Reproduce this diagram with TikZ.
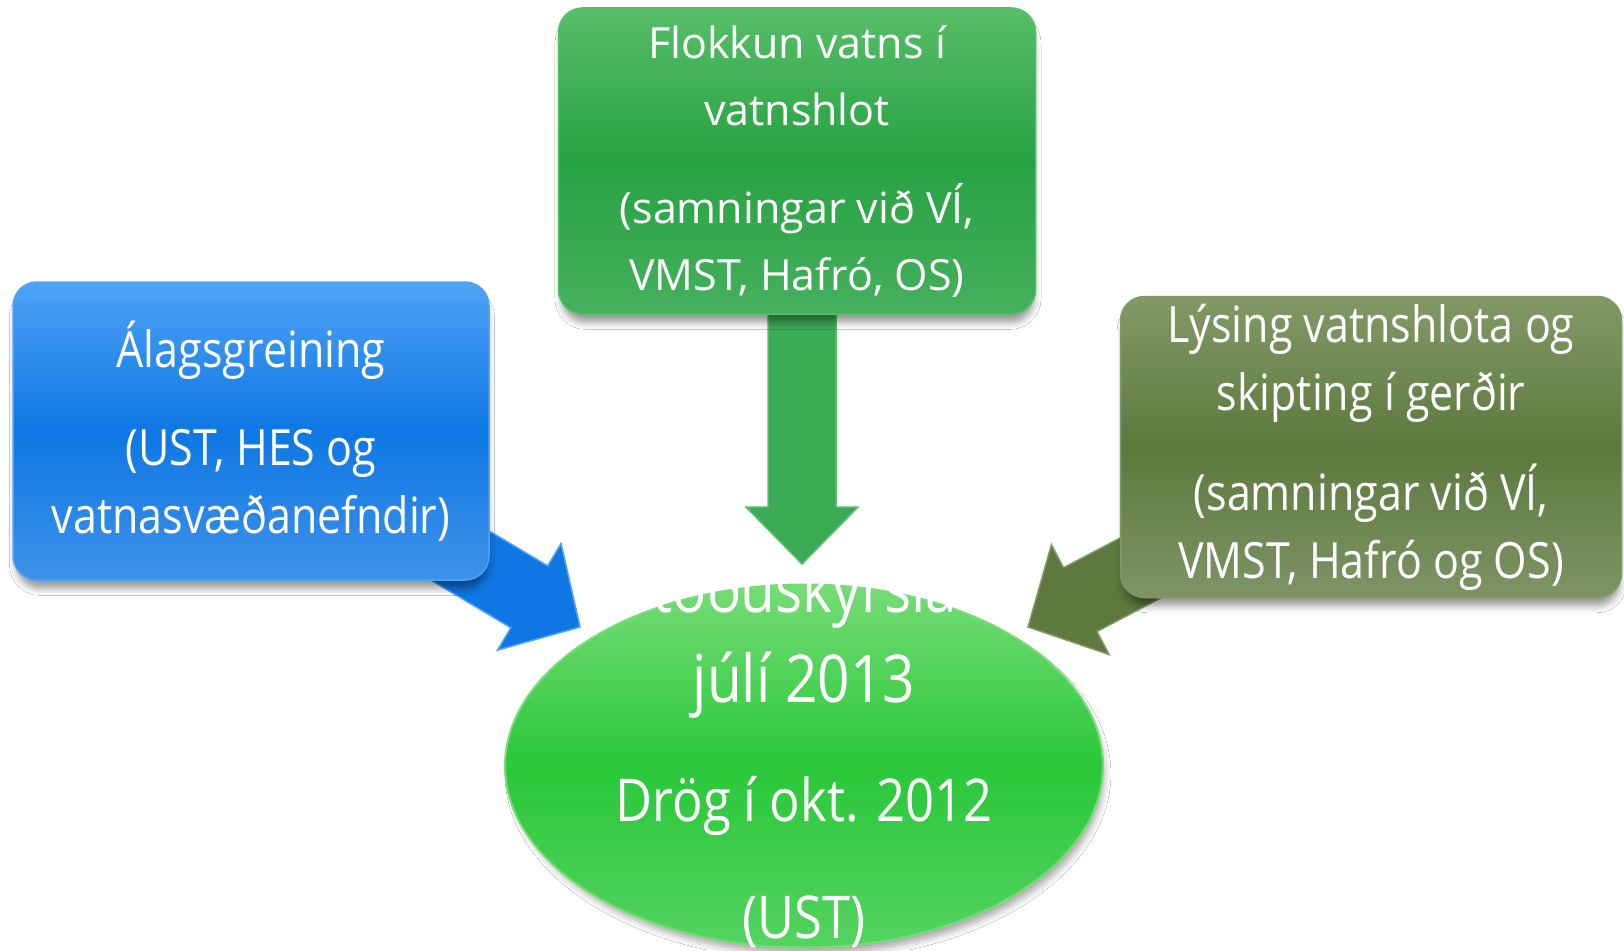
\documentclass[tikz,border=0pt]{standalone}
\usepackage{fontspec}
\setmainfont{Open Sans}
\newfontfamily\condfont[FakeStretch=0.86]{Open Sans}
\usetikzlibrary{shapes.geometric,calc,shadows.blur}

\definecolor{bluemain}{RGB}{14,119,227}
\definecolor{bluelight}{RGB}{78,163,245}
\definecolor{greenmain}{RGB}{38,162,66}
\definecolor{greenlight}{RGB}{88,190,104}
\definecolor{olivemain}{RGB}{93,121,62}
\definecolor{olivelight}{RGB}{130,153,103}
\definecolor{ellmain}{RGB}{42,200,58}
\definecolor{elllight}{RGB}{118,220,118}
\definecolor{shadowcol}{RGB}{70,50,40}

% block arrow: #1 style, #2 source, #3 tip, #4 shaft half width, #5 head half width, #6 head length
\newcommand\blockarr[6]{%
  \coordinate (#3hc) at ($(#3)!#6!(#2)$);
  \draw[#1] ($(#2)!#4!90:(#3)$) -- ($(#3hc)!#4!90:(#3)$) -- ($(#3hc)!#5!90:(#3)$)
    -- (#3) -- ($(#3hc)!#5!-90:(#3)$) -- ($(#3hc)!#4!-90:(#3)$) -- ($(#2)!#4!-90:(#3)$) -- cycle;}

\begin{document}
\begin{tikzpicture}[x=1pt,y=-1pt,
  boxshape/.style={rectangle, rounded corners=24pt, inner sep=0pt, align=center, text=white,
    line width=1.5pt,
    blur shadow={shadow xshift=1pt, shadow yshift=-10pt, shadow blur radius=7pt,
      shadow opacity=40, shadow blur extra rounding=4pt, shadow scale=0.99}},
  topfont/.style={font=\fontsize{43pt}{67pt}\selectfont},
  condtext/.style={font=\condfont\fontsize{50pt}{68pt}\selectfont},
]
\fill[white] (0,0) rectangle (1624,950);
\useasboundingbox (0,0) rectangle (1624,950);

% central ellipse
\node[ellipse, minimum width=598pt, minimum height=363pt, inner sep=0pt,
  top color=elllight, bottom color=ellmain!80!white, middle color=ellmain,
  draw=elllight, line width=2pt,
  blur shadow={shadow xshift=4pt, shadow yshift=-8pt, shadow blur radius=7pt, shadow opacity=35, shadow scale=0.99}]
  (ell) at (804,766) {};

% arrow tips
\coordinate (tipL) at (580,627);
\coordinate (tipR) at (1028,627);
\coordinate (tipD) at (802,564);

\path (797,161) coordinate (topc);
\coordinate (srcD) at (tipD |- topc);

\blockarr{fill=bluemain, draw=bluelight, line width=1.5pt}{251,431}{tipL}{36pt}{62pt}{59pt}
\blockarr{fill=olivemain, draw=olivelight, line width=1.5pt}{1371,447}{tipR}{36pt}{62pt}{59pt}
\blockarr{fill=greenmain!90!white, draw=greenlight, line width=1.5pt}{srcD}{tipD}{34pt}{56pt}{57pt}

\node[boxshape, topfont, minimum width=477pt, minimum height=306pt,
  top color=greenlight, bottom color=greenmain!85!white, middle color=greenmain, draw=greenlight]
  (top) at (797,161)
  {Flokkun vatns í\\ vatnshlot\\[31pt] (samningar við VÍ,\\ VMST, Hafró, OS)};

\node[boxshape, condtext, minimum width=476pt, minimum height=298pt,
  top color=bluelight, bottom color=bluemain!80!white, middle color=bluemain, draw=bluelight]
  (blue) at (251,431)
  {Álagsgreining\\[30pt] (UST, HES og\\ vatnasvæðanefndir)};

\node[boxshape, condtext, minimum width=501pt, minimum height=301pt,
  top color=olivelight, bottom color=olivemain!80!white, middle color=olivemain, draw=olivelight]
  (olive) at (1371,447)
  {Lýsing vatnshlota og\\ skipting í gerðir\\[32pt] (samningar við VÍ,\\ VMST, Hafró og OS)};

% text of the ellipse (base = baseline of its last line)
\node[text=white, align=center, anchor=base, inner sep=0pt,
  font=\condfont\fontsize{66pt}{90pt}\selectfont]
  (ellt) at (804,938)
  {Stöðuskýrsla í\\ júlí 2013\\[29pt] {\fontsize{59pt}{90pt}\selectfont Drög í okt. 2012}\\[27pt] {\fontsize{59pt}{90pt}\selectfont (UST)}};
\end{tikzpicture}
\end{document}
